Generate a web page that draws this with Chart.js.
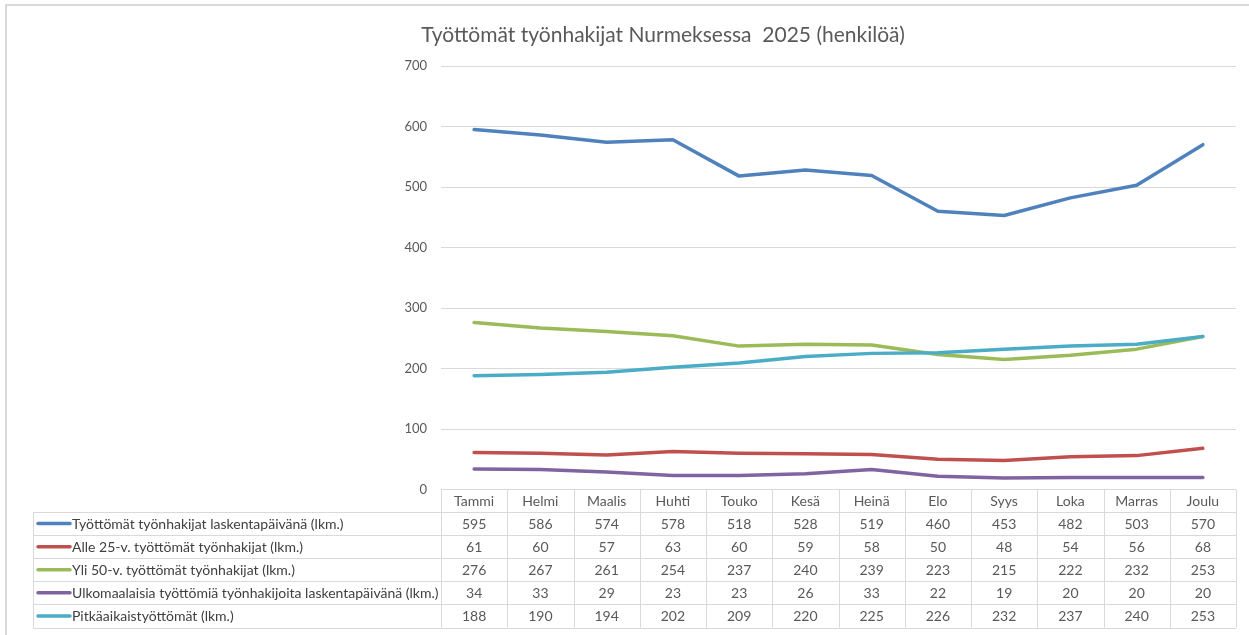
<!DOCTYPE html>
<html lang="fi">
<head>
<meta charset="utf-8">
<title>Työttömät työnhakijat Nurmeksessa 2025</title>
<script src="https://cdn.jsdelivr.net/npm/chart.js@4/dist/chart.umd.min.js"></script>
<style>
  html, body { margin: 0; padding: 0; background: #fff; }
  #wrap { width: 1249px; height: 635px; position: relative; }
</style>
</head>
<body>
<div id="wrap"><canvas id="kaavio" width="1249" height="635"></canvas></div>
<script>
const kuukaudet = ['Tammi', 'Helmi', 'Maalis', 'Huhti', 'Touko', 'Kesä', 'Heinä', 'Elo', 'Syys', 'Loka', 'Marras', 'Joulu'];

const tyottomat     = [595, 586, 574, 578, 518, 528, 519, 460, 453, 482, 503, 570];
const alle25        = [61, 60, 57, 63, 60, 59, 58, 50, 48, 54, 56, 68];
const yli50         = [276, 267, 261, 254, 237, 240, 239, 223, 215, 222, 232, 253];
const ulkomaalaiset = [34, 33, 29, 23, 23, 26, 33, 22, 19, 20, 20, 20];
const pitkaaikais   = [188, 190, 194, 202, 209, 220, 225, 226, 232, 237, 240, 253];

const sarjaNimet = [
  'Työttömät työnhakijat laskentapäivänä (lkm.)',
  'Alle 25-v. työttömät työnhakijat (lkm.)',
  'Yli 50-v. työttömät työnhakijat (lkm.)',
  'Ulkomaalaisia työttömiä työnhakijoita laskentapäivänä (lkm.)',
  'Pitkäaikaistyöttömät (lkm.)'
];
const sarjaVarit = ['#4f81bd', '#c0504d', '#9bbb59', '#8064a2', '#4bacc6'];
const yMin = 0;
const yMax = 700;
const yAskel = 100;

const otsikko = 'Työttömät työnhakijat Nurmeksessa  2025 (henkilöä)';

const FONTTI = 'Lato, "Open Sans", "Liberation Sans", sans-serif';
const VIIVA = '#d9d9d9';
const TEKSTI = '#595959';

const sarjat = [tyottomat, alle25, yli50, ulkomaalaiset, pitkaaikais];

// otsikko, taulukko ja reunus piirretään itse
const taulukkoPlugin = {
  id: 'taulukko',
  afterDraw(chart) {
    const ctx = chart.ctx;
    const x = chart.scales.x;
    const alue = chart.chartArea;
    const sarakeLeveys = x.width / kuukaudet.length;
    const vasen = 33;
    const oikea = alue.right;
    const otsikkoAla = 512;
    const rivi = 23.1;
    const ala = otsikkoAla + rivi * sarjat.length;

    ctx.save();

    // otsikko
    ctx.font = '21px ' + FONTTI;
    ctx.fillStyle = TEKSTI;
    ctx.textAlign = 'center';
    ctx.textBaseline = 'middle';
    ctx.fillText(otsikko, 663, 35);

    ctx.strokeStyle = VIIVA;
    ctx.lineWidth = 1;

    // vaakaviivat
    ctx.beginPath();
    ctx.moveTo(alue.left, alue.bottom);
    ctx.lineTo(oikea, alue.bottom);
    for (let r = 0; r <= sarjat.length; r++) {
      const y = Math.round(otsikkoAla + r * rivi) + 0.5;
      ctx.moveTo(vasen, y);
      ctx.lineTo(oikea, y);
    }
    // pystyviivat
    ctx.moveTo(vasen + 0.5, otsikkoAla);
    ctx.lineTo(vasen + 0.5, ala);
    for (let i = 0; i <= kuukaudet.length; i++) {
      const xx = Math.round(alue.left + i * sarakeLeveys) + 0.5;
      ctx.moveTo(xx, alue.bottom);
      ctx.lineTo(xx, ala);
    }
    ctx.stroke();

    ctx.font = '14px ' + FONTTI;
    ctx.fillStyle = TEKSTI;

    kuukaudet.forEach((k, i) => {
      ctx.fillText(k, x.getPixelForValue(i), (alue.bottom + otsikkoAla) / 2 + 1);
    });

    sarjat.forEach((arvot, r) => {
      const yKeski = otsikkoAla + r * rivi + rivi / 2 + 1;
      arvot.forEach((v, i) => {
        ctx.fillText(String(v), x.getPixelForValue(i), yKeski);
      });
    });

    // selitteet
    ctx.textAlign = 'left';
    sarjaNimet.forEach((nimi, r) => {
      const yKeski = otsikkoAla + r * rivi + rivi / 2;
      ctx.strokeStyle = sarjaVarit[r];
      ctx.lineWidth = 3.5;
      ctx.lineCap = 'round';
      ctx.beginPath();
      ctx.moveTo(38, yKeski);
      ctx.lineTo(70, yKeski);
      ctx.stroke();
      ctx.fillStyle = '#404040';
      ctx.fillText(nimi, 72, yKeski + 1);
    });

    // ulkoreunus
    ctx.strokeStyle = VIIVA;
    ctx.lineWidth = 2;
    ctx.lineCap = 'butt';
    ctx.beginPath();
    ctx.moveTo(6, chart.height);
    ctx.lineTo(6, 5);
    ctx.lineTo(chart.width, 5);
    ctx.stroke();
    ctx.restore();
  }
};

new Chart(document.getElementById('kaavio').getContext('2d'), {
  type: 'line',
  data: {
    labels: kuukaudet,
    datasets: sarjat.map((arvot, i) => ({
      label: sarjaNimet[i],
      data: arvot,
      borderColor: sarjaVarit[i],
      backgroundColor: sarjaVarit[i],
      borderWidth: 3.5,
      pointRadius: 0,
      tension: 0,
      borderCapStyle: 'round',
      borderJoinStyle: 'round',
      order: sarjat.length - i
    }))
  },
  options: {
    responsive: false,
    animation: false,
    layout: { padding: { left: 0, right: 13, top: 66, bottom: 145.5 } },
    plugins: {
      legend: { display: false },
      tooltip: { enabled: false },
      title: { display: false }
    },
    scales: {
      x: {
        type: 'category',
        offset: true,
        display: false
      },
      y: {
        min: yMin,
        max: yMax,
        afterFit(scale) { scale.width = 441; },
        border: { display: false },
        grid: { color: VIIVA, lineWidth: 1, drawTicks: false },
        ticks: {
          stepSize: yAskel,
          padding: 14,
          color: TEKSTI,
          font: { family: FONTTI, size: 13 }
        }
      }
    }
  },
  plugins: [taulukkoPlugin]
});
</script>
</body>
</html>
